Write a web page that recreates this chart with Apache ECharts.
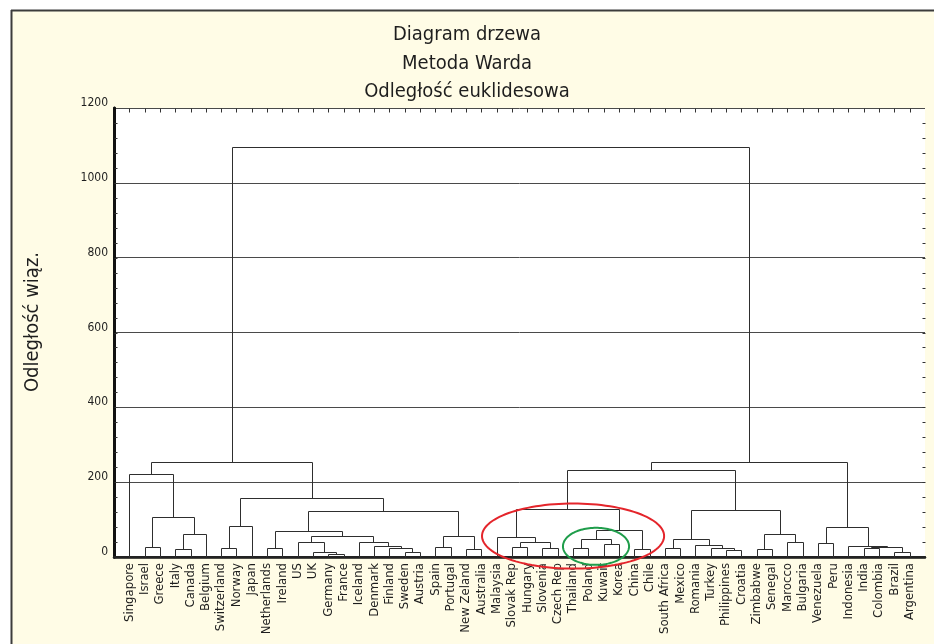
<!DOCTYPE html>
<html>
<head>
<meta charset="utf-8">
<title>Diagram drzewa</title>
<script src="https://cdn.jsdelivr.net/npm/echarts@6.0.0/dist/echarts.min.js"></script>
<style>
  html, body { margin: 0; padding: 0; background: #ffffff; }
  #chart { width: 934px; height: 644px; }
</style>
</head>
<body>
<div id="chart"></div>
<script>
// Countries in dendrogram (leaf) order, left to right
const leaves = [
  'Singapore', 'Israel', 'Greece', 'Italy', 'Canada', 'Belgium', 'Switzerland',
  'Norway', 'Japan', 'Netherlands', 'Ireland', 'US', 'UK', 'Germany', 'France',
  'Iceland', 'Denmark', 'Finland', 'Sweden', 'Austria', 'Spain', 'Portugal',
  'New Zeland', 'Australia', 'Malaysia', 'Slovak Rep', 'Hungary', 'Slovenia',
  'Czech Rep', 'Thailand', 'Poland', 'Kuwait', 'Korea', 'China', 'Chile',
  'South Africa', 'Mexico', 'Romania', 'Turkey', 'Philippines', 'Croatia',
  'Zimbabwe', 'Senegal', 'Marocco', 'Bulgaria', 'Venezuela', 'Peru',
  'Indonesia', 'India', 'Colombia', 'Brazil', 'Argentina'
];

// Ward linkage: [child A, child B, linkage distance].
// Children 0..51 are leaves; merge k creates cluster id 52 + k.
const merges = [
  [13, 14, 9],     // 52 Germany + France
  [12, 52, 12.5],  // 53 UK
  [18, 19, 14],    // 54 Sweden + Austria
  [50, 51, 14],    // 55 Brazil + Argentina
  [39, 40, 18.7],  // 56 Philippines + Croatia
  [33, 34, 20.5],  // 57 China + Chile
  [22, 23, 20.5],  // 58 New Zeland + Australia
  [41, 42, 20.5],  // 59 Zimbabwe + Senegal
  [3, 4, 22],      // 60 Italy + Canada
  [9, 10, 23],     // 61 Netherlands + Ireland
  [17, 54, 23],    // 62 Finland
  [27, 28, 23],    // 63 Slovenia + Czech Rep
  [48, 49, 23],    // 64 India + Colombia
  [6, 7, 25],      // 65 Switzerland + Norway
  [29, 30, 25],    // 66 Thailand + Poland
  [35, 36, 25],    // 67 South Africa + Mexico
  [38, 56, 25],    // 68 Turkey
  [1, 2, 26],      // 69 Israel + Greece
  [20, 21, 26],    // 70 Spain + Portugal
  [64, 55, 26],    // 71
  [25, 26, 28],    // 72 Slovak Rep + Hungary
  [16, 62, 29],    // 73 Denmark
  [47, 71, 29],    // 74 Indonesia
  [37, 68, 32],    // 75 Romania
  [31, 32, 34],    // 76 Kuwait + Korea
  [45, 46, 37],    // 77 Venezuela + Peru
  [11, 53, 39],    // 78 US
  [15, 73, 39],    // 79 Iceland
  [43, 44, 41],    // 80 Marocco + Bulgaria
  [72, 63, 41],    // 81
  [66, 76, 47],    // 82
  [67, 75, 48],    // 83
  [24, 81, 53],    // 84 Malaysia
  [78, 79, 57],    // 85
  [70, 58, 57],    // 86
  [60, 5, 61],     // 87 Belgium
  [59, 80, 61],    // 88
  [61, 85, 70],    // 89
  [82, 57, 72],    // 90
  [77, 74, 79],    // 91
  [65, 8, 84],     // 92 Japan
  [69, 87, 108],   // 93
  [89, 86, 124],   // 94
  [83, 88, 125],   // 95
  [84, 90, 128],   // 96
  [92, 94, 159],   // 97
  [0, 93, 222],    // 98 Singapore
  [96, 95, 233],   // 99
  [98, 97, 255],   // 100
  [99, 91, 253],   // 101
  [100, 101, 1096] // 102 root
];

// Groups marked with rings: first and last leaf of each group
const ringedGroups = [
  ['Malaysia', 'Chile'],
  ['Thailand', 'Korea']
];

// Value axis settings (linkage distance)
const yMax = 1200;
const yStep = 200;
const yMinorStep = 40;

// ---- tree layout: leaves sit at 1..n, a cluster sits midway between its children
const nodeX = leaves.map((_, i) => i + 1);
const nodeH = leaves.map(() => 0);
const links = merges.map(([a, b, h]) => {
  const seg = [nodeX[a], nodeH[a], nodeX[b], nodeH[b], h];
  nodeX.push((nodeX[a] + nodeX[b]) / 2);
  nodeH.push(h);
  return seg;
});

const ringLook = [
  { color: '#e4252b', padX: 0.95, top: 143, bottom: -31 },
  { color: '#1f9d4b', padX: 0.66, top: 78, bottom: -21 }
];
const rings = ringedGroups.map(([from, to], i) => {
  const a = leaves.indexOf(from) + 1;
  const b = leaves.indexOf(to) + 1;
  const s = ringLook[i];
  return [(a + b) / 2, (s.top + s.bottom) / 2, (b - a) / 2 + s.padX, (s.top - s.bottom) / 2, i];
});

// Short inward frame ticks: every 40 units on both sides, every leaf slot on top.
// Each item: [x, y, direction] with direction 0 = right, 1 = left, 2 = down.
const xMax = leaves.length + 1;
const frameTicks = [];
for (let v = yMinorStep; v < yMax; v += yMinorStep) {
  frameTicks.push([0, v, 0], [xMax, v, 1]);
}
for (let i = 1; i < xMax; i++) frameTicks.push([i, yMax, 2]);

const FONT = "'Liberation Sans Narrow', 'DejaVu Sans Condensed', 'Liberation Sans', sans-serif";
const crisp = v => Math.round(v) + 0.5;

const chart = echarts.init(document.getElementById('chart'), null, { renderer: 'canvas' });

chart.setOption({
  backgroundColor: '#fffce6',
  animation: false,
  title: {
    text: 'Diagram drzewa\nMetoda Warda\nOdległość euklidesowa',
    left: 'center',
    top: 16,
    textStyle: {
      fontFamily: FONT,
      fontSize: 20,
      fontWeight: 'normal',
      lineHeight: 28.5,
      color: '#1e1e1e'
    }
  },
  graphic: [
    // white margin and dark frame around the panel
    { type: 'rect', left: 0, top: 0, shape: { width: 934, height: 10 }, style: { fill: '#ffffff' }, silent: true },
    { type: 'rect', left: 0, top: 0, shape: { width: 11, height: 644 }, style: { fill: '#ffffff' }, silent: true },
    { type: 'line', shape: { x1: 11, y1: 10.5, x2: 934, y2: 10.5 }, style: { stroke: '#3c3c3c', lineWidth: 2 }, silent: true },
    { type: 'line', shape: { x1: 11.5, y1: 10, x2: 11.5, y2: 644 }, style: { stroke: '#3c3c3c', lineWidth: 2 }, silent: true },
    {
      type: 'text',
      x: 33, y: 322,
      rotation: Math.PI / 2,
      style: {
        text: 'Odległość wiąz.',
        fontFamily: FONT,
        fontSize: 20,
        fill: '#1e1e1e',
        align: 'center',
        verticalAlign: 'middle'
      }
    }
  ],
  grid: {
    left: 114, right: 9, top: 108, bottom: 87,
    show: true,
    backgroundColor: '#ffffff',
    borderWidth: 0
  },
  xAxis: [
    {
      type: 'value',
      position: 'bottom',
      min: 0,
      max: xMax,
      interval: 1,
      splitLine: { show: false },
      axisTick: { show: false },
      axisLine: { show: true, lineStyle: { color: '#111', width: 2.5 } },
      axisLabel: {
        rotate: 90,
        margin: 6,
        fontFamily: FONT,
        fontSize: 13,
        color: '#1e1e1e',
        showMinLabel: true,
        showMaxLabel: true,
        formatter: v => leaves[v - 1] || ''
      }
    },
    {
      type: 'value',
      position: 'top',
      min: 0,
      max: xMax,
      interval: 1,
      splitLine: { show: false },
      axisLabel: { show: false },
      axisTick: { show: false },
      axisLine: { show: true, lineStyle: { color: '#222', width: 2 } }
    }
  ],
  yAxis: [
    {
      type: 'value',
      position: 'left',
      min: 0,
      max: yMax,
      interval: yStep,
      axisLine: { show: true, lineStyle: { color: '#111', width: 2.5 } },
      axisTick: { show: false },
      splitLine: { show: true, lineStyle: { color: '#4a4a4a', width: 1 } },
      axisLabel: {
        margin: 6,
        fontFamily: FONT,
        fontSize: 12,
        lineHeight: 10,
        color: '#1e1e1e',
        verticalAlign: 'bottom',
        formatter: v => String(v)
      }
    },
    {
      type: 'value',
      position: 'right',
      min: 0,
      max: yMax,
      interval: yStep,
      axisLine: { show: true, lineStyle: { color: '#111', width: 3 } },
      axisTick: { show: false },
      splitLine: { show: false },
      axisLabel: { show: false }
    }
  ],
  series: [
    {
      name: 'frame ticks',
      type: 'custom',
      xAxisIndex: 0,
      yAxisIndex: 0,
      clip: false,
      silent: true,
      z: 3,
      encode: { x: 0, y: 1 },
      data: frameTicks,
      renderItem(params, api) {
        const p = api.coord([api.value(0), api.value(1)]);
        const dir = api.value(2);
        const x = crisp(p[0]), y = crisp(p[1]);
        let shape;
        if (dir === 0) shape = { x1: x, y1: y, x2: x + 3, y2: y };
        else if (dir === 1) shape = { x1: x - 3, y1: y, x2: x, y2: y };
        else shape = { x1: x, y1: y, x2: x, y2: y + 4 };
        return { type: 'line', shape, style: { stroke: '#333', lineWidth: 1 } };
      }
    },
    {
      name: 'dendrogram',
      type: 'custom',
      xAxisIndex: 0,
      yAxisIndex: 0,
      clip: false,
      encode: { x: [0, 2], y: [1, 3, 4] },
      data: links,
      renderItem(params, api) {
        const xl = api.value(0), hl = api.value(1);
        const xr = api.value(2), hr = api.value(3), h = api.value(4);
        const pts = [
          api.coord([xl, hl]), api.coord([xl, h]),
          api.coord([xr, h]), api.coord([xr, hr])
        ].map(p => [crisp(p[0]), crisp(p[1])]);
        return {
          type: 'polyline',
          shape: { points: pts },
          style: { stroke: '#2e2e2e', lineWidth: 1, fill: null }
        };
      }
    },
    {
      name: 'rings',
      type: 'custom',
      xAxisIndex: 0,
      yAxisIndex: 0,
      clip: false,
      z: 5,
      encode: { x: 0, y: 1 },
      data: rings,
      renderItem(params, api) {
        const c = api.coord([api.value(0), api.value(1)]);
        const rx = api.size([api.value(2), 0])[0];
        const ry = api.size([0, api.value(3)])[1];
        const look = ringLook[api.value(4)];
        const pts = [];
        for (let k = 0; k < 120; k++) {
          const t = (k / 120) * Math.PI * 2;
          pts.push([c[0] + rx * Math.cos(t), c[1] + ry * Math.sin(t)]);
        }
        return {
          type: 'polygon',
          shape: { points: pts },
          style: { stroke: look.color, lineWidth: 2, fill: null }
        };
      }
    }
  ]
});
</script>
</body>
</html>
